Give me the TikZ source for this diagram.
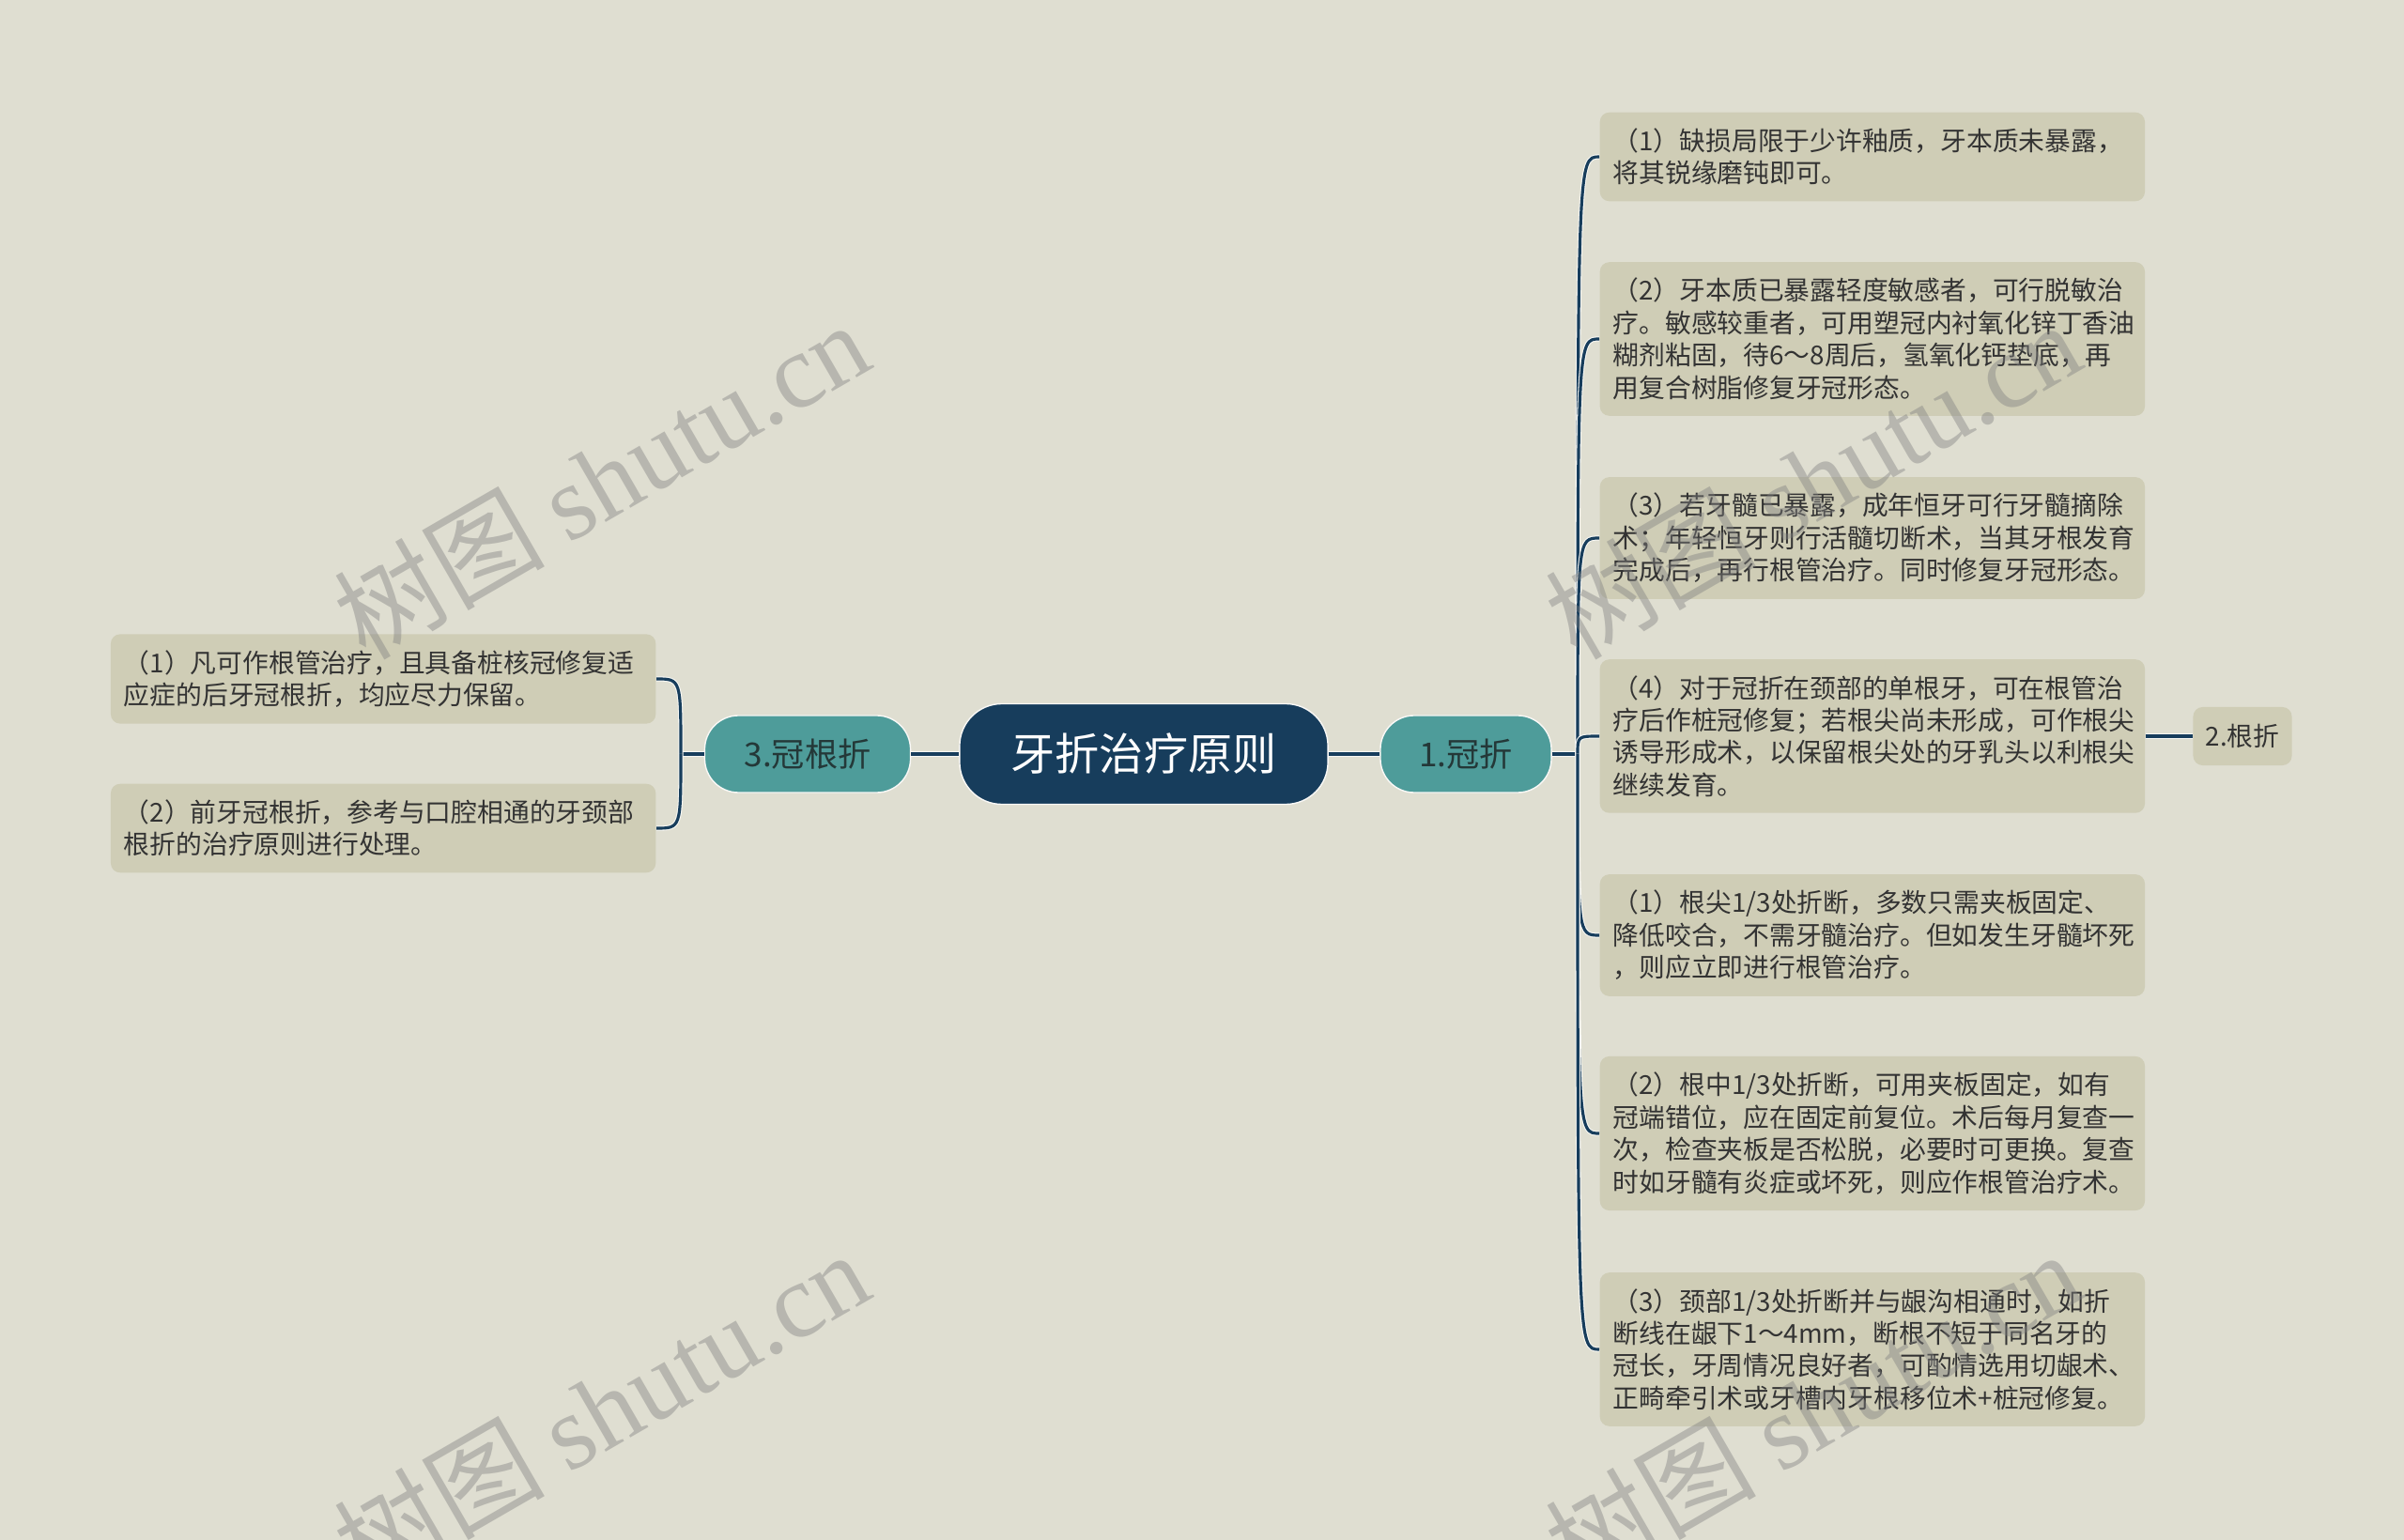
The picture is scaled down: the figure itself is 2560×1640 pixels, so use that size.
\documentclass[tikz,border=0pt]{standalone}
\usepackage{fontspec}
\setmainfont{Noto Sans CJK SC}
\newfontfamily\wmfont{Liberation Serif}
\definecolor{bgpaper}{HTML}{DFDED1}
\definecolor{boxfill}{HTML}{CFCDB6}
\definecolor{rootnavy}{HTML}{173D5C}
\definecolor{topicteal}{HTML}{4E9C9A}
\definecolor{topictext}{HTML}{243838}
\definecolor{txtgray}{HTML}{333333}
\begin{document}
\begin{tikzpicture}
  [x=0.01cm,y=-0.01cm,every node/.style={font=\fontsize{7.9}{9.8}\selectfont,text=txtgray}]
  \tikzstyle{root} = [fill=rootnavy,draw=white!80!bgpaper,line width=0.4pt,rounded corners=0.45cm,minimum width=3.92cm,minimum height=1.07cm,text=white,font=\fontsize{13.4}{16}\selectfont]
  \tikzstyle{topic} = [fill=topicteal,draw=white!80!bgpaper,line width=0.4pt,rounded corners=0.36cm,minimum height=0.82cm,text=topictext,font=\fontsize{10}{12}\selectfont]
  \tikzstyle{leaf} = [fill=boxfill,rounded corners=0.1cm,text width=5.52cm,align=left,inner xsep=0.14cm,inner ysep=0.17cm]
  \tikzstyle{tag} = [fill=boxfill,rounded corners=0.1cm,minimum width=1.05cm,minimum height=0.62cm,inner sep=0pt]
  \tikzstyle{link} = [draw=white!75!bgpaper,double=rootnavy,double distance=0.9pt,line width=0.3pt]
  \tikzstyle{wmark} = [rotate=30,text=black!50,text opacity=0.42,font=\fontsize{32}{36}\selectfont]
  \useasboundingbox (0,0) rectangle (2560,1640);
  \fill[bgpaper] (0,0) rectangle (2560,1640);

  % centre and main topics
  \node[root] (root) at (1218,803) {牙折治疗原则};
  \node[topic,minimum width=1.82cm] (c1) at (1561,803) {1.冠折};
  \node[topic,minimum width=2.19cm] (c3) at (860,803) {3.冠根折};
  \coordinate (j1) at (1680,803);
  \coordinate (j3) at (725,803);

  % right column
  \node[leaf,anchor=west] (b1) at (1703,167) {（1）缺损局限于少许釉质，牙本质未暴露，\\将其锐缘磨钝即可。};
  \node[leaf,anchor=west] (b2) at (1703,361) {（2）牙本质已暴露轻度敏感者，可行脱敏治\\疗。敏感较重者，可用塑冠内衬氧化锌丁香油\\糊剂粘固，待6～8周后，氢氧化钙垫底，再\\用复合树脂修复牙冠形态。};
  \node[leaf,anchor=west] (b3) at (1703,573) {（3）若牙髓已暴露，成年恒牙可行牙髓摘除\\术；年轻恒牙则行活髓切断术，当其牙根发育\\完成后，再行根管治疗。同时修复牙冠形态。};
  \node[leaf,anchor=west] (b4) at (1703,784) {（4）对于冠折在颈部的单根牙，可在根管治\\疗后作桩冠修复；若根尖尚未形成，可作根尖\\诱导形成术，以保留根尖处的牙乳头以利根尖\\继续发育。};
  \node[leaf,anchor=west] (b5) at (1703,996) {（1）根尖1/3处折断，多数只需夹板固定、\\降低咬合，不需牙髓治疗。但如发生牙髓坏死\\，则应立即进行根管治疗。};
  \node[leaf,anchor=west] (b6) at (1703,1207) {（2）根中1/3处折断，可用夹板固定，如有\\冠端错位，应在固定前复位。术后每月复查一\\次，检查夹板是否松脱，必要时可更换。复查\\时如牙髓有炎症或坏死，则应作根管治疗术。};
  \node[leaf,anchor=west] (b7) at (1703,1437) {（3）颈部1/3处折断并与龈沟相通时，如折\\断线在龈下1～4mm，断根不短于同名牙的\\冠长，牙周情况良好者，可酌情选用切龈术、\\正畸牵引术或牙槽内牙根移位术+桩冠修复。};
  \node[tag] (g2) at (2388,784) {2.根折};

  % left column
  \node[leaf,anchor=east] (a1) at (699,723) {（1）凡可作根管治疗，且具备桩核冠修复适\\应症的后牙冠根折，均应尽力保留。};
  \node[leaf,anchor=east] (a2) at (699,882) {（2）前牙冠根折，参考与口腔相通的牙颈部\\根折的治疗原则进行处理。};

  \foreach \source/\dest in {root/c1,root/c3,c1/j1,c3/j3,b4/g2}
    \draw[link] (\source) -- (\dest);
  \foreach \i in {1,...,7}
    \draw[link] (j1) .. controls (j1 |- b\i.west) .. (b\i.west);
  \foreach \i in {1,2}
    \draw[link] (j3) .. controls (j3 |- a\i.east) .. (a\i.east);

  % watermark
  \foreach \wx/\wy [count=\i] in {640/510,1930/510,640/1500,1930/1500}
    \node[wmark] (w\i) at (\wx,\wy) {树图 {\wmfont shutu.cn}};
\end{tikzpicture}
\end{document}
